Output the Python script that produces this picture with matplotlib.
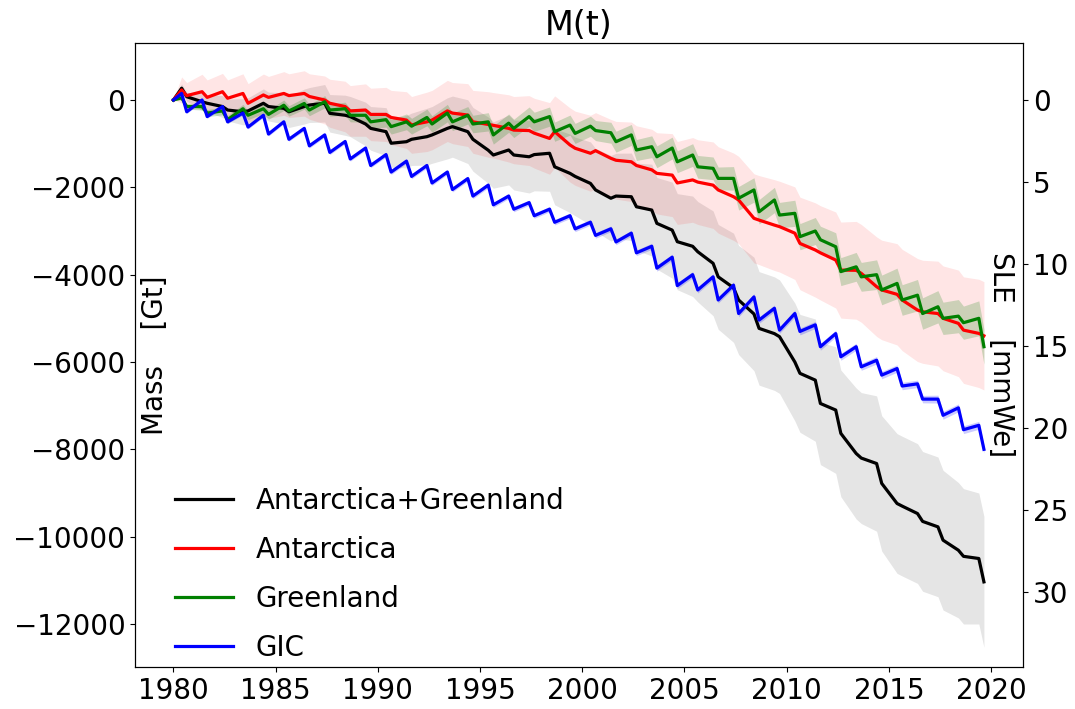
import numpy as np
import matplotlib
matplotlib.use("Agg")
import matplotlib.pyplot as plt

years = np.arange(1980, 2020)

ais_gis_high = [270, -40, -150, -270, -75, -190, -150, -75, -350, -550,
                -725, -955, -840, -650, -725, -1150, -1145, -1300, -1220, -1680,
                -1910, -2250, -2215, -2520, -2980, -3350, -3740, -4300, -4900, -5350,
                -6000, -6415, -7100, -8095, -8325, -9240, -9470, -9775, -10310, -10500]
ais_gis_low = [75, -75, -230, -250, -150, -270, -115, -305, -380, -650,
               -990, -900, -800, -610, -900, -1260, -1260, -1250, -1530, -1750,
               -2060, -2200, -2445, -2825, -3245, -3475, -4050, -4580, -5230, -5420,
               -6260, -6950, -7635, -8200, -8780, -9300, -9650, -10080, -10450, -11035]

ais_high = [230, 190, 190, 150, 115, 150, 150, 0, -150, -230,
            -330, -460, -500, -250, -345, -560, -650, -700, -880, -1030,
            -1220, -1335, -1415, -1600, -1720, -1830, -1950, -2215, -2710, -2865,
            -3050, -3435, -3665, -3900, -4275, -4450, -4810, -4890, -5115, -5345]
ais_low = [100, 60, 40, -75, 60, 100, 80, -75, -250, -330,
           -400, -570, -460, -300, -500, -580, -690, -760, -725, -1105,
           -1160, -1380, -1500, -1680, -1900, -1880, -2060, -2290, -2750, -2900,
           -3285, -3500, -3895, -3970, -4350, -4580, -4850, -5000, -5270, -5400]

gis_high = [50, -150, -250, -200, -200, -120, -80, -40, -200, -350,
            -450, -500, -400, -300, -350, -500, -530, -380, -380, -575,
            -600, -750, -800, -1070, -1100, -1260, -1565, -1795, -2060, -2290,
            -2595, -3000, -3360, -3820, -4000, -4200, -4470, -4735, -4950, -5000]
gis_low = [-150, -300, -450, -350, -330, -250, -230, -230, -350, -500,
           -610, -600, -550, -500, -550, -800, -650, -500, -725, -765,
           -700, -955, -1145, -1300, -1415, -1530, -1795, -2250, -2560, -2635,
           -3130, -3200, -3930, -4050, -4350, -4580, -4890, -5000, -5100, -5650]

gic_high = [150, 0, -150, -300, -350, -500, -650, -800, -950, -1100,
            -1250, -1400, -1500, -1650, -1800, -1950, -2200, -2350, -2500, -2650,
            -2800, -2950, -3050, -3350, -3600, -4000, -4050, -4240, -4510, -4770,
            -4890, -5150, -5350, -5650, -5960, -6150, -6500, -6850, -7050, -7450]
gic_low = [-270, -380, -500, -620, -780, -900, -1050, -1200, -1350, -1500,
           -1650, -1750, -1900, -2050, -2200, -2400, -2500, -2650, -2800, -2950,
           -3100, -3250, -3500, -3850, -4250, -4350, -4580, -4890, -5040, -5270,
           -5300, -5650, -5880, -6110, -6300, -6550, -6850, -7220, -7550, -8000]

# 1-sigma half width per year [Gt]
ais_gis_err = [100, 200, 250, 300, 330, 360, 400, 430, 460, 500,
               550, 600, 650, 700, 730, 760, 800, 830, 870, 900,
               950, 980, 1000, 1050, 1100, 1150, 1200, 1250, 1300, 1300,
               1350, 1400, 1450, 1500, 1550, 1600, 1600, 1600, 1550, 1500]
ais_err = [300, 400, 420, 450, 480, 500, 520, 550, 580, 600,
           620, 650, 680, 700, 720, 750, 770, 800, 820, 850,
           870, 890, 910, 930, 950, 970, 990, 1000, 1020, 1040,
           1060, 1080, 1100, 1120, 1140, 1160, 1180, 1200, 1220, 1240]
gis_err = [60, 80, 90, 100, 110, 120, 130, 140, 150, 160,
           170, 180, 190, 200, 200, 210, 210, 220, 220, 230,
           230, 240, 240, 250, 250, 260, 260, 270, 280, 290,
           300, 310, 320, 330, 340, 350, 360, 370, 380, 400]
gic_err = [40, 40, 40, 45, 45, 45, 50, 50, 50, 50,
           55, 55, 55, 55, 60, 60, 60, 60, 60, 65,
           65, 65, 65, 70, 70, 70, 70, 75, 75, 75,
           80, 80, 80, 80, 85, 85, 85, 90, 90, 90]

labels = ["Antarctica+Greenland", "Antarctica", "Greenland", "GIC"]
colors = ["k", "r", "g", "b"]
band_alpha = [0.1, 0.1, 0.2, 0.2]

GT_PER_MM = 375.7


def build(high, low, err):
    n = len(years)
    t = np.empty(2 * n + 1)
    v = np.zeros(2 * n + 1)
    e = np.zeros(2 * n + 1)
    t[0] = years[0]
    t[1::2] = years + 0.4
    t[2::2] = years + 0.65
    v[1::2] = high
    v[2::2] = low
    e[1::2] = err
    e[2::2] = err
    return t, v, e


series = [
    build(ais_gis_high, ais_gis_low, ais_gis_err),
    build(ais_high, ais_low, ais_err),
    build(gis_high, gis_low, gis_err),
    build(gic_high, gic_low, gic_err),
]

plt.rcParams["font.size"] = 20

fig = plt.figure(figsize=(10.75, 7.09), dpi=100)
ax = fig.add_axes([0.1256, 0.0592, 0.826, 0.8802])

for (t, v, e), c, a in zip(series, colors, band_alpha):
    ax.fill_between(t, v - e, v + e, color=c, alpha=a, lw=0)
for (t, v, e), c, lab in zip(series, colors, labels):
    ax.plot(t, v, color=c, lw=2.3, label=lab)

ax.set_xlim(1978.12, 2021.56)
ax.set_ylim(-12985, 1306)
ax.set_xticks(np.arange(1980, 2021, 5))
ax.set_title("M(t)")
ax.set_ylabel("Mass    [Gt]", rotation=90, ha="center", va="center",
              rotation_mode="default")
ax.yaxis.set_label_coords(0.023, 0.5)

ax2 = ax.twinx()
lo, hi = ax.get_ylim()
ax2.set_ylim(-lo / GT_PER_MM, -hi / GT_PER_MM)
ax2.set_ylabel("SLE    [mmWe]", rotation=270, ha="center", va="center",
               rotation_mode="default")
ax2.yaxis.set_label_coords(0.975, 0.5)

ax.legend(loc="lower left", frameon=False, labelspacing=0.76,
          handlelength=2.1, bbox_to_anchor=(0.017, -0.032))

fig.savefig("out.png", dpi=100)
